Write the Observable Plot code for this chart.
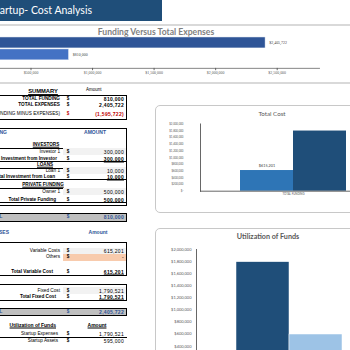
<!DOCTYPE html>
<html><head><meta charset="utf-8">
<script src="https://cdn.jsdelivr.net/npm/d3@7"></script>
<script src="https://cdn.jsdelivr.net/npm/@observablehq/plot@0.6"></script>
<style>
body{margin:0;background:#fff;}
#root{position:relative;width:350px;height:350px;overflow:hidden;background:#fff;font-family:"Liberation Sans",Arial,sans-serif;}
.t{position:absolute;white-space:nowrap;line-height:1;transform:translateY(-50%);}
.box{position:absolute;box-sizing:border-box;}
.plot{position:absolute;}
</style></head><body><div id="root"></div>
<script>
// ---------- data ----------
const pageTitle = "Startup- Cost Analysis";

const fundingChartTitle = "Funding Versus Total Expenses";
const fundingCategories = ["Total Expenses", "Total Funding"];
const fundingValues = [2405722, 810000];
const fundingTicks = [500000, 1000000, 1500000, 2000000, 2500000];

const costTitle = "Total Cost";
const costCategory = "TOTAL FUNDING";
const costSeries = ["Total Variable Cost", "Total Fixed Cost"];
const costValues = [615201, 1790521];
const costTicks = [0, 200000, 400000, 600000, 800000, 1000000, 1200000, 1400000, 1600000, 1800000, 2000000];

const utilTitle = "Utilization of Funds";
const utilSeries = ["Startup Expenses", "Startup Assets"];
const utilValues = [1790521, 595000];
const utilTicks = [400000, 600000, 800000, 1000000, 1200000, 1400000, 1600000, 1800000, 2000000];

const summaryLabels = ["TOTAL FUNDING", "TOTAL EXPENSES", "(TOTAL FUNDING MINUS EXPENSES)"];
const summaryValues = ["810,000", "2,405,722", "(1,595,722)"];
const investorLabels = ["Investor 1", "Total Investment from Investor"];
const investorValues = ["300,000", "300,000"];
const loanLabels = ["Loan 1", "Total Investment from Loan"];
const loanValues = ["10,000", "10,000"];
const privateLabels = ["Owner 1", "Total Private Funding"];
const privateValues = ["500,000", "500,000"];
const fundingTotal = ["TOTAL", "810,000"];
const variableLabels = ["Variable Costs", "Others", "Total Variable Cost"];
const variableValues = ["615,201", "-", "615,201"];
const fixedLabels = ["Fixed Cost", "Total Fixed Cost"];
const fixedValues = ["1,790,521", "1,790,521"];
const expensesTotal = ["TOTAL", "2,405,722"];
const utilLabels = ["Startup Expenses", "Startup Assets"];
const utilTableValues = ["1,790,521", "595,000"];

// ---------- helpers ----------
const root = document.getElementById("root");
const money = d => d === 0 ? "$-" : "$" + d3.format(",")(d);
function txt(s, x, y, o = {}) {
  const d = document.createElement("div");
  d.className = "t";
  d.textContent = s;
  const st = d.style;
  st.top = y + "px";
  st.fontSize = (o.size || 4.6) + "px";
  if (o.bold) st.fontWeight = "bold";
  st.color = o.color || "#000";
  if (o.underline) st.textDecoration = "underline";
  if (o.font) st.fontFamily = o.font;
  if (o.ls) st.letterSpacing = o.ls + "px";
  const a = o.anchor || "end";
  if (a === "end") st.right = (350 - x) + "px";
  else if (a === "start") st.left = x + "px";
  else { st.left = x + "px"; st.transform = "translate(-50%,-50%)"; }
  root.appendChild(d);
  return d;
}
function rect(x1, y1, x2, y2, o = {}) {
  const d = document.createElement("div");
  d.className = "box";
  Object.assign(d.style, {left: x1 + "px", top: y1 + "px", width: (x2 - x1) + "px", height: (y2 - y1) + "px"});
  if (o.fill) d.style.background = o.fill;
  if (o.border) d.style.border = o.border;
  if (o.radius) d.style.borderRadius = o.radius + "px";
  root.appendChild(d);
  return d;
}
function place(svg, left, top) {
  svg.classList.add("plot");
  svg.style.left = left + "px";
  svg.style.top = top + "px";
  root.appendChild(svg);
}
const LX = 60, DX = 68, VX = 124;
function row(label, value, y, o = {}) {
  if (o.cell) rect(63, y - 3.5, 126, y + 3.5, {fill: o.cell});
  txt(label, o.lx || LX, y, {bold: o.bold, size: o.size || 4.7, color: o.lcolor});
  txt("$", DX, y, {anchor: "middle", bold: true, size: 4.6, color: o.dcolor || o.color});
  txt(value, VX, y, {bold: o.bold || o.vbold, size: 5, color: o.color, underline: o.underline, ls: 0.3});
}

// ---------- page title ----------
rect(0, 0, 162, 20.5, {fill: "#1f4e79"});
txt(pageTitle, 92, 9.6, {size: 10.5, color: "#fff", font: "Lato, 'Open Sans', sans-serif"});

// ---------- top chart ----------
rect(0, 23.5, 350, 25.5, {fill: "#d9d9d9"});
rect(0, 82, 350, 84, {fill: "#d9d9d9"});
txt(fundingChartTitle, 156, 32, {anchor: "middle", bold: true, size: 8.6, color: "#7f7f7f", font: "Lato, sans-serif"});
const fundingData = fundingCategories.map((c, i) => ({category: c, value: fundingValues[i]}));
place(Plot.plot({
  width: 381, height: 57, marginLeft: 0, marginRight: 0, marginTop: 4, marginBottom: 10.3,
  style: {background: "transparent", overflow: "visible", fontFamily: "'Liberation Serif', serif"},
  x: {domain: [0, 2500000], range: [0, 335], label: null},
  y: {domain: fundingCategories, paddingInner: 0.08, paddingOuter: 0.68, axis: null},
  color: {domain: fundingCategories, range: ["#2f5597", "#4472c4"]},
  marks: [
    Plot.barX(fundingData, {x: "value", y: "category", fill: "category", stroke: "#fff", strokeWidth: 0.6}),
    Plot.text(fundingData, {x: "value", y: "category", text: d => money(d.value), textAnchor: "start", dx: 4, fontSize: 4.3, fill: "#404040"}),
    Plot.frame({anchor: "bottom", stroke: "#595959", strokeWidth: 0.8}),
    Plot.axisX({ticks: fundingTicks, tickFormat: money, tickSize: 2.5, tickPadding: 1, fontSize: 4.3, color: "#595959", label: null})
  ]
}), -31, 25);

// ---------- total cost chart ----------
rect(155, 104.5, 380, 213, {border: "1px solid #c8c8c8", radius: 5, fill: "#fff"});
txt(costTitle, 272, 114, {anchor: "middle", size: 6.2, color: "#595959", font: "Lato, sans-serif"});
const costData = costSeries.map((s, i) => ({series: s, value: costValues[i]}));
place(Plot.plot({
  width: 231, height: 107, marginLeft: 45, marginRight: 0, marginTop: 18.5, marginBottom: 21.3,
  style: {background: "transparent", overflow: "visible", fontFamily: "Lato, sans-serif"},
  x: {domain: costSeries, paddingInner: 0, paddingOuter: 0.75, axis: null},
  y: {domain: [0, 2000000], axis: null, label: null},
  color: {domain: costSeries, range: ["#2e75b6", "#1f4e79"]},
  marks: [
    Plot.barY(costData, {x: "series", y: "value", fill: "series"}),
    Plot.text(costData.filter((d, i) => i === 0), {x: "series", y: "value", text: d => money(d.value), dy: -4.5, fontSize: 3.8, fill: "#404040"}),
    Plot.ruleY([0], {stroke: "#404040", strokeWidth: 0.8}),
    Plot.frame({anchor: "left", stroke: "#404040", strokeWidth: 0.8}),
    Plot.axisY({ticks: costTicks, tickFormat: money, tickSize: 0, tickPadding: 17, fontSize: 2.8, color: "#595959", label: null}),
    Plot.text([costCategory], {text: d => d, frameAnchor: "bottom", lineAnchor: "top", dy: 2, fontSize: 2.8, fill: "#595959"})
  ]
}), 155, 105);

// ---------- utilization chart ----------
rect(155, 228, 380, 400, {border: "1px solid #c8c8c8", radius: 5, fill: "#fff"});
txt(utilTitle, 268, 237, {anchor: "middle", size: 7.2, bold: true, color: "#595959", font: "Lato, sans-serif"});
const utilData = utilSeries.map((s, i) => ({series: s, value: utilValues[i]}));
place(Plot.plot({
  width: 227, height: 150, marginLeft: 41, marginRight: 0, marginTop: 21, marginBottom: 8,
  style: {background: "transparent", overflow: "visible", fontFamily: "Lato, sans-serif"},
  x: {domain: utilSeries, paddingInner: 0, paddingOuter: 0.75, axis: null},
  y: {domain: [0, 2000000], axis: null, label: null},
  color: {domain: utilSeries, range: ["#1f4e79", "#9dc3e6"]},
  marks: [
    Plot.barY(utilData, {x: "series", y: "value", fill: "series", stroke: "#fff", strokeWidth: 0.5}),
    Plot.frame({anchor: "left", stroke: "#404040", strokeWidth: 0.8}),
    Plot.axisY({ticks: utilTicks, tickFormat: money, tickSize: 0, tickPadding: 5, fontSize: 4, color: "#595959", label: null})
  ]
}), 155, 228);

// ---------- summary table ----------
txt("SUMMARY", 43, 92, {anchor: "middle", bold: true, underline: true, size: 5.8});
txt("Amount", 86, 90, {anchor: "start", size: 4.5});
rect(-2, 95, 126.5, 119.5, {border: "1.5px solid #000"});
row(summaryLabels[0], summaryValues[0], 98.5, {bold: true, vbold: false});
row(summaryLabels[1], summaryValues[1], 105, {bold: true});
row(summaryLabels[2], summaryValues[2], 114, {color: "#c00000", lcolor: "#000", vbold: true, bold: false});

// funding table
rect(-2, 128, 126.5, 206, {border: "1.5px solid #000"});
txt("FUNDING", 7, 132, {bold: true, size: 5, color: "#2f5597"});
txt("AMOUNT", 95, 132, {anchor: "middle", bold: true, size: 5, color: "#2f5597"});
txt("INVESTORS", 46, 145, {anchor: "middle", bold: true, underline: true, size: 4.6});
rect(-2, 148, 126.5, 162, {border: "1px solid #000"});
row(investorLabels[0], investorValues[0], 151.5, {cell: "#f2f2f2"});
row(investorLabels[1], investorValues[1], 159, {bold: true, underline: true, lx: 57});
txt("LOANS", 45, 165, {anchor: "middle", bold: true, underline: true, size: 4.6});
rect(-2, 168, 126.5, 179.5, {border: "1px solid #000"});
row(loanLabels[0], loanValues[0], 170.8, {cell: "#f2f2f2"});
row(loanLabels[1], loanValues[1], 176.5, {bold: true, underline: true, lx: 55});
txt("PRIVATE FUNDING", 43, 185, {anchor: "middle", bold: true, underline: true, size: 4.6});
rect(-2, 188, 126.5, 203, {border: "1px solid #000"});
row(privateLabels[0], privateValues[0], 191.5, {cell: "#f2f2f2"});
row(privateLabels[1], privateValues[1], 200, {bold: true, lx: 56});
rect(-2, 213, 126.5, 221.5, {border: "1.5px solid #000", fill: "#bfbfbf"});
row(fundingTotal[0], fundingTotal[1], 217.3, {bold: true, color: "#2f5597", lcolor: "#2f5597", lx: 2.5});

// expenses table
txt("EXPENSES", 9, 232, {bold: true, size: 5, color: "#2f5597"});
txt("Amount", 98, 232, {anchor: "middle", bold: true, size: 5, color: "#2f5597"});
rect(-2, 242, 126.5, 275.5, {border: "1.5px solid #000"});
row(variableLabels[0], variableValues[0], 251, {cell: "#f2f2f2"});
row(variableLabels[1], variableValues[1], 257.3, {cell: "#f8cbad"});
row(variableLabels[2], variableValues[2], 272.3, {bold: true, underline: true, lx: 53});
rect(-2, 284, 126.5, 301, {border: "1.5px solid #000"});
row(fixedLabels[0], fixedValues[0], 290.5, {cell: "#f2f2f2"});
row(fixedLabels[1], fixedValues[1], 297, {bold: true, underline: true, lx: 56});
rect(-2, 307.5, 126.5, 316, {border: "1.5px solid #000", fill: "#bfbfbf"});
row(expensesTotal[0], expensesTotal[1], 311.8, {bold: true, color: "#2f5597", lcolor: "#2f5597", lx: 2.5});

// utilization table
txt("Utilization of Funds", 56, 325, {bold: true, underline: true, size: 5});
txt("Amount", 97, 324.5, {anchor: "middle", bold: true, underline: true, size: 5});
row(utilLabels[0], utilTableValues[0], 334, {lx: 58});
rect(0, 337, 126.5, 337.7, {fill: "#000"});
row(utilLabels[1], utilTableValues[1], 341, {lx: 58});
</script></body></html>
